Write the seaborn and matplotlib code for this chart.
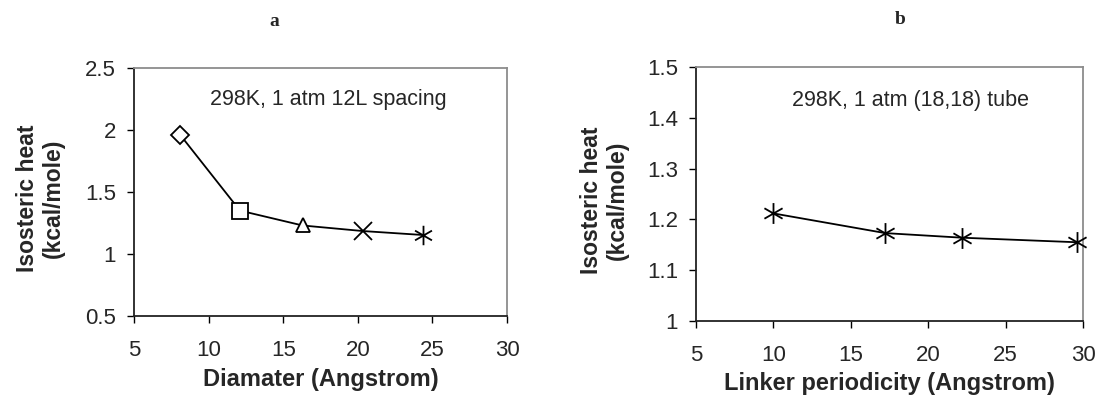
import numpy as np
import pandas as pd
import seaborn as sns
import matplotlib.pyplot as plt
from matplotlib.path import Path

sns.set_theme(style="white")
plt.rcParams['font.family'] = ['Liberation Sans', 'DejaVu Sans']

# Panel a: tube diameter vs isosteric heat (12L spacing)
diam = [8.1, 12.1, 16.3, 20.35, 24.4]
heat_a = [1.96, 1.35, 1.23, 1.185, 1.153]
markers_a = ['D', 's', '^', 'x', 'asterisk']
sizes_a = [9, 12, 10, 13, 14]

# Panel b: linker periodicity vs isosteric heat ((18,18) tube)
period = [9.96, 17.23, 22.17, 29.62]
heat_b = [1.212, 1.173, 1.164, 1.155]

# six-armed asterisk marker: vertical stroke plus two diagonals
asterisk = Path(
    [(0, -1), (0, 1), (-0.87, -0.5), (0.87, 0.5), (-0.87, 0.5), (0.87, -0.5)],
    [Path.MOVETO, Path.LINETO, Path.MOVETO, Path.LINETO, Path.MOVETO, Path.LINETO],
)

W, H = 1099, 400
fig = plt.figure(figsize=(W / 100, H / 100), dpi=100)


def px_axes(left, top, right, bottom):
    return fig.add_axes([left / W, 1 - bottom / H, (right - left) / W, (bottom - top) / H])


ax_a = px_axes(134, 68, 507, 316)
ax_b = px_axes(696, 67, 1083, 321)

lw = 1.3


def draw_marker(ax, x, y, m, size):
    if m == 'asterisk':
        ax.plot([x], [y], marker=asterisk, markersize=size, color='black',
                markeredgewidth=lw, linestyle='none', zorder=4, clip_on=False)
    elif m == 'x':
        ax.plot([x], [y], marker='x', markersize=size, color='black',
                markeredgewidth=lw, linestyle='none', zorder=4, clip_on=False)
    else:
        ax.plot([x], [y], marker=m, markersize=size, markerfacecolor='white',
                markeredgecolor='black', markeredgewidth=lw, linestyle='none',
                zorder=4, clip_on=False)


df_a = pd.DataFrame({'x': diam, 'y': heat_a})
sns.lineplot(data=df_a, x='x', y='y', ax=ax_a, color='black', linewidth=lw)
for x, y, m, s in zip(diam, heat_a, markers_a, sizes_a):
    draw_marker(ax_a, x, y, m, s)

df_b = pd.DataFrame({'x': period, 'y': heat_b})
sns.lineplot(data=df_b, x='x', y='y', ax=ax_b, color='black', linewidth=lw)
for x, y in zip(period, heat_b):
    draw_marker(ax_b, x, y, 'asterisk', 15)

ax_a.set_xlim(5, 30)
ax_a.set_ylim(0.5, 2.5)
ax_a.set_xticks([5, 10, 15, 20, 25, 30])
ax_a.set_yticks([0.5, 1.0, 1.5, 2.0, 2.5])
ax_a.set_yticklabels(['0.5', '1', '1.5', '2', '2.5'])

ax_b.set_xlim(5, 30)
ax_b.set_ylim(1.0, 1.5)
ax_b.set_xticks([5, 10, 15, 20, 25, 30])
ax_b.set_yticks([1.0, 1.1, 1.2, 1.3, 1.4, 1.5])
ax_b.set_yticklabels(['1', '1.1', '1.2', '1.3', '1.4', '1.5'])

for ax in (ax_a, ax_b):
    for side in ('left', 'bottom'):
        ax.spines[side].set_color('#222222')
        ax.spines[side].set_linewidth(1.3)
    for side in ('top', 'right'):
        ax.spines[side].set_color('#8c8c8c')
        ax.spines[side].set_linewidth(1.3)
    ax.tick_params(axis='both', which='major', direction='out', length=5,
                   width=1.0, color='black', labelsize=16, bottom=True, left=True)
    ax.tick_params(axis='x', pad=12.5)
    ax.tick_params(axis='y', pad=8)
    ax.grid(False)

ax_a.set_xlabel('Diamater (Angstrom)', fontsize=17, fontweight='bold')
ax_b.set_xlabel('Linker periodicity (Angstrom)', fontsize=17, fontweight='bold')
ax_a.xaxis.set_label_coords(0.5, -0.21)
ax_b.xaxis.set_label_coords(0.5, -0.20)

for ax, xr in ((ax_a, -0.185), (ax_b, -0.174)):
    ax.set_ylabel('Isosteric heat\n(kcal/mole)', fontsize=16.5, fontweight='bold',
                  linespacing=1.15)
    ax.yaxis.set_label_coords(xr, 0.476)

ax_a.text(0.204, 0.875, '298K, 1 atm 12L spacing', transform=ax_a.transAxes,
          fontsize=15.5, ha='left', va='center')
ax_b.text(0.248, 0.870, '298K, 1 atm (18,18) tube', transform=ax_b.transAxes,
          fontsize=15.5, ha='left', va='center')

fig.text(274 / W, 1 - 21 / H, 'a', family='Liberation Serif',
         fontweight='bold', fontsize=14, ha='center', va='center')
fig.text(900 / W, 1 - 20 / H, 'b', family='Liberation Serif',
         fontweight='bold', fontsize=14, ha='center', va='center')

fig.savefig('out.png', dpi=100, facecolor='white')
